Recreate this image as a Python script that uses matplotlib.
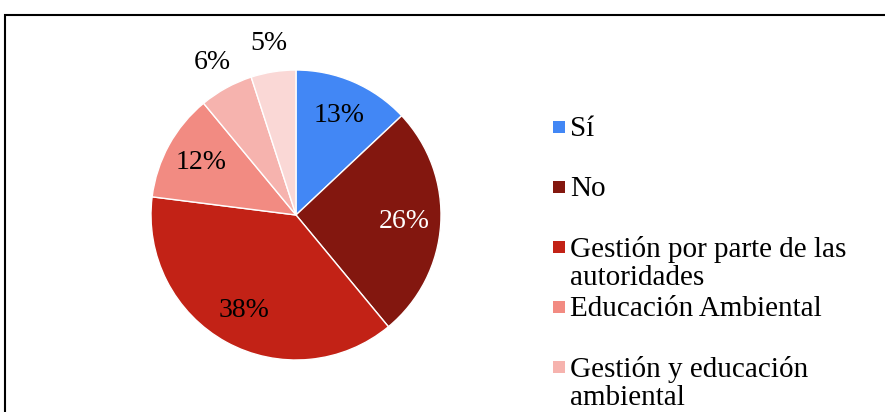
import numpy as np
import matplotlib.pyplot as plt
from matplotlib.patches import Rectangle

plt.rcParams['font.family'] = ['Liberation Serif', 'DejaVu Serif']

# Datos del gráfico
categorias = ['Sí', 'No', 'Gestión por parte de las\nautoridades', 'Educación Ambiental',
              'Gestión y educación\nambiental', 'Otros']
porcentajes = [13, 26, 38, 12, 6, 5]
colores = ['#4287F5', '#83170F', '#C22216', '#F28B82', '#F6B3AE', '#FAD8D6']

W, H = 885, 412
fig = plt.figure(figsize=(W / 100, H / 100), dpi=100)

# pie placed by pixel center / radius
cx, cy, rpx = 296, 215, 145
side = 2.5 * rpx
ax = fig.add_axes([(cx - side / 2) / W, (H - cy - side / 2) / H, side / W, side / H])

wedges, texts, autotexts = ax.pie(
    porcentajes, colors=colores, startangle=90, counterclock=False,
    autopct='%1.0f%%', pctdistance=0.75,
    wedgeprops=dict(edgecolor='white', linewidth=1),
    textprops=dict(fontsize=20, color='black'))
ax.set_xlim(-1.25, 1.25)
ax.set_ylim(-1.25, 1.25)
ax.set_aspect('equal')

autotexts[1].set_color('white')
# small slices get their labels outside
for w, t in zip(wedges, autotexts):
    if (w.theta2 - w.theta1) < 25:
        ang = np.deg2rad((w.theta1 + w.theta2) / 2)
        t.set_position((1.2 * np.cos(ang), 1.2 * np.sin(ang)))

# legend drawn by hand (entries evenly stepped, long labels wrap over)
# only the first five entries fit inside the visible area
for i, (lab, col) in enumerate(zip(categorias[:5], colores[:5])):
    ytop = 127 + 60 * i
    fig.add_artist(Rectangle((553 / W, (H - ytop - 6) / H), 12 / W, 12 / H,
                             transform=fig.transFigure, color=col, lw=0))
    fig.text(570 / W, (H - ytop + 11) / H, lab, fontsize=21, va='top', ha='left',
             linespacing=1.1, transform=fig.transFigure)

# chart border (cropped at right and bottom)
fig.add_artist(Rectangle((5 / W, -0.05), 1.0, (H - 15) / H + 0.05,
                         transform=fig.transFigure, fill=False, edgecolor='black', lw=1.5))

fig.savefig('out.png', dpi=100)
